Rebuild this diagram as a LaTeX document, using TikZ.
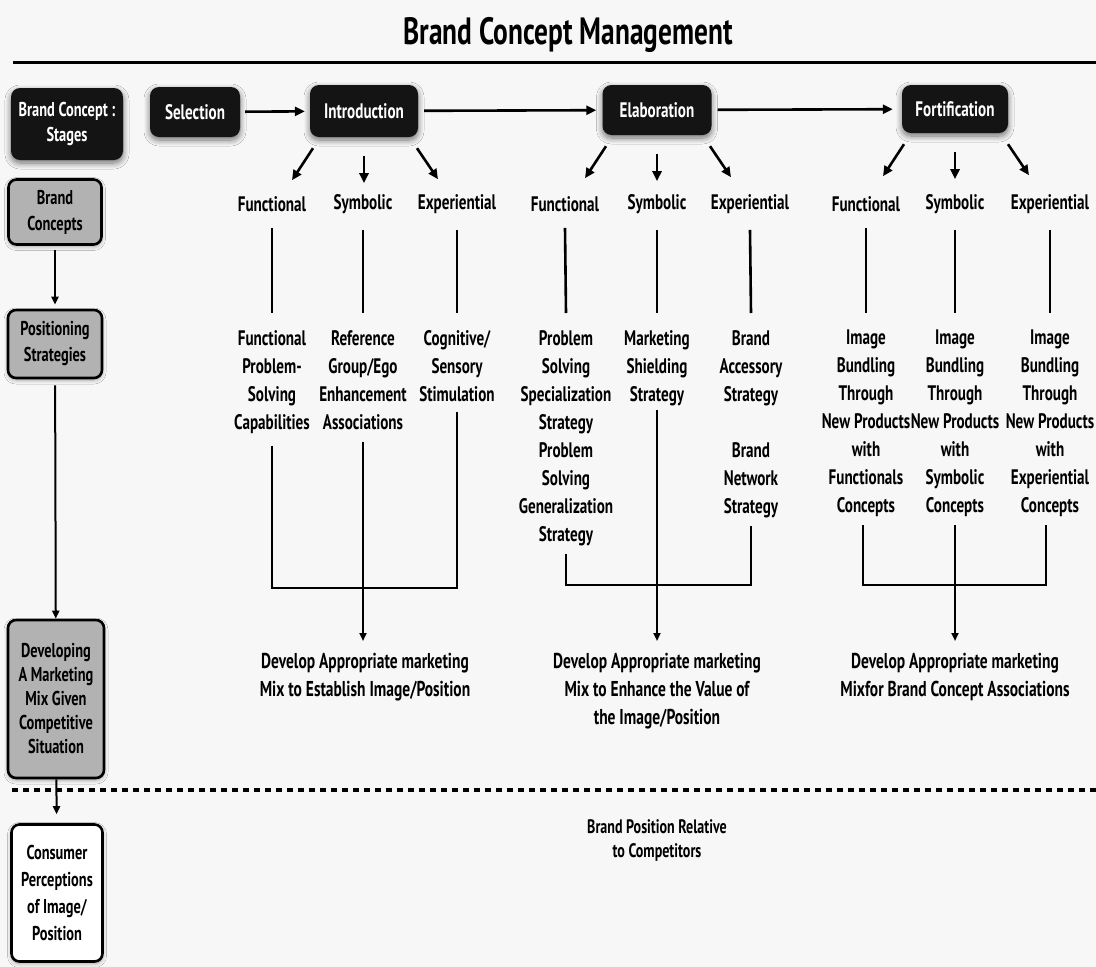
\documentclass[tikz,border=0pt]{standalone}
\usepackage{fontspec}
\newfontfamily\cf[FakeStretch=0.72]{PT Sans}
\usetikzlibrary{arrows.meta,shadows.blur}
\begin{document}
\begin{tikzpicture}[x=1pt,y=-1pt,
  stage/.style={fill=black!92, text=white, rounded corners=9pt, inner sep=0pt,
    align=center, font=\cf\bfseries\fontsize{21}{24}\selectfont,
    blur shadow={shadow blur steps=8, shadow xshift=0pt, shadow yshift=-3pt,
      shadow opacity=55, shadow blur radius=6pt}},
  side/.style={draw=black, line width=2.6pt, fill=black!30, rounded corners=8pt,
    inner sep=0pt, align=center, font=\cf\bfseries\fontsize{20}{26}\selectfont,
    blur shadow={shadow blur steps=6, shadow xshift=0pt, shadow yshift=-2pt,
      shadow opacity=35, shadow blur radius=4pt}},
  lbl/.style={font=\cf\bfseries\fontsize{21}{28}\selectfont, inner sep=0pt},
  strat/.style={font=\cf\bfseries\fontsize{21}{28}\selectfont, align=center,
    inner sep=0pt, anchor=north},
  mix/.style={font=\cf\bfseries\fontsize{21.5}{28}\selectfont, align=center,
    inner sep=0pt, anchor=north},
  ln/.style={line width=2.6pt},
  arr/.style={line width=2.6pt, -{Triangle[length=10pt,width=9pt]}},
  sarr/.style={line width=2pt, -{Triangle[length=8pt,width=7pt]}}]

% page and background
\fill[white!97!black] (0,0) rectangle (1096,967);
\useasboundingbox (0,0) rectangle (1096,967);

% title and rule
\node[font=\cf\bfseries\fontsize{38}{44}\selectfont, inner sep=0pt] (title) at (568,35) {Brand Concept Management};
\coordinate (ruleL) at (13,62);
\coordinate (ruleR) at (1096,62);
\draw[line width=3pt] (ruleL) -- (ruleR);

% left column
\node[stage, minimum width=112pt, minimum height=72pt, font=\cf\bfseries\fontsize{20}{25}\selectfont] (bcs) at (67,124) {Brand Concept :\\Stages};
\node[side, minimum width=93pt, minimum height=65pt] (bc) at (55,212) {Brand\\Concepts};
\node[side, minimum width=94pt, minimum height=68pt] (ps) at (55,344) {Positioning\\Strategies};
\node[side, minimum width=96pt, minimum height=158pt, font=\cf\bfseries\fontsize{20}{24}\selectfont] (dev) at (56,699)
  {Developing\\A Marketing\\Mix Given\\Competitive\\Situation};
\node[side, fill=white, minimum width=91pt, minimum height=137pt, font=\cf\bfseries\fontsize{20}{27}\selectfont] (cons) at (57,893)
  {Consumer\\Perceptions\\of Image/\\Position};

\draw[sarr, shorten <=4pt, shorten >=4pt] (bc) -- (ps);
\draw[sarr, shorten <=6pt] (ps) -- (dev);
\draw[sarr, shorten >=9pt] (dev) -- (cons);

% dotted divider
\coordinate (divL) at (12,790);
\coordinate (divR) at (1096,790);
\draw[line width=4pt, dash pattern=on 6pt off 5pt] (divL) -- (divR);

% stages
\node[stage, minimum width=90pt, minimum height=50pt] (sel) at (195,112) {Selection};
\node[stage, minimum width=108pt, minimum height=52pt] (intro) at (364,111) {Introduction};
\node[stage, minimum width=109pt, minimum height=50pt] (elab) at (657,110) {Elaboration};
\node[stage, minimum width=106pt, minimum height=48pt] (fort) at (955,109) {Fortification};

\draw[arr, shorten <=5pt, shorten >=5pt] (sel) -- (intro);
\draw[arr, shorten <=6pt, shorten >=6pt] (intro) -- (elab);
\draw[arr, shorten <=6pt, shorten >=9pt] (elab) -- (fort);

% concept labels
\foreach \n/\x/\t in {f1/272/Functional, s1/363/Symbolic, e1/457/Experiential,
                      f2/565/Functional, s2/657/Symbolic, e2/750/Experiential,
                      f3/866/Functional, s3/955/Symbolic, e3/1050/Experiential}
  \node[lbl] (\n) at (\x,204) {\t};

% branch arrows from each stage
\foreach \s in {intro, elab, fort} {
  \draw[arr] ([shift={(-51pt,-11pt)}]\s.south) -- ++(-21pt,-32pt);
  \draw[arr] ([shift={(0pt,-19pt)}]\s.south) -- ++(0pt,-27pt);
  \draw[arr] ([shift={(53pt,-11pt)}]\s.south) -- ++(21pt,-31pt);
}

% positioning strategies
\node[strat] (t1) at (272,330) {Functional\\Problem-\\Solving\\Capabilities};
\node[strat] (t2) at (363,330) {Reference\\Group/Ego\\Enhancement\\Associations};
\node[strat] (t3) at (457,330) {Cognitive/\\Sensory\\Stimulation};
\node[strat] (t4) at (566,330) {Problem\\Solving\\Specialization\\Strategy\\Problem\\Solving\\Generalization\\Strategy};
\node[strat] (t5) at (657,330) {Marketing\\Shielding\\Strategy};
\node[strat] (t6) at (751,330) {Brand\\Accessory\\Strategy\\[28pt]Brand\\Network\\Strategy};
\node[strat] (t7) at (866,330) {Image\\Bundling\\Through\\New Products\\with\\Functionals\\Concepts};
\node[strat] (t8) at (955,330) {Image\\Bundling\\Through\\New Products\\with\\Symbolic\\Concepts};
\node[strat] (t9) at (1050,330) {Image\\Bundling\\Through\\New Products\\with\\Experiential\\Concepts};

% label to strategy lines
\foreach \a/\b in {f1/t1, s1/t2, e1/t3, f2/t4, s2/t5, e2/t6, f3/t7, s3/t8, e3/t9}
  \draw[ln] ([yshift=-16pt]\a.south) -- ([yshift=17pt]\b.north);

% marketing mix texts
\node[mix] (d1) at (365,653) {Develop Appropriate marketing\\Mix to Establish Image/Position};
\node[mix] (d2) at (657,653) {Develop Appropriate marketing\\Mix to Enhance the Value of\\the Image/Position};
\node[mix] (d3) at (955,653) {Develop Appropriate marketing\\Mixfor Brand Concept Associations};

% brackets and arrows
\coordinate (b1) at (363,588);
\coordinate (b2) at (657,585);
\coordinate (b3) at (955,585);
\draw[ln] ([yshift=-12pt]t1.south) |- (b1) -| ([yshift=-10pt]t3.south);
\draw[ln] ([yshift=-8pt]t4.south) |- (b2) -| ([yshift=-8pt]t6.south);
\draw[ln] ([yshift=-8pt]t7.south -| 863,0) |- (b3) -| ([yshift=-8pt]t9.south -| 1046,0);
\draw[sarr, shorten >=12pt] ([yshift=-12pt]t2.south) -- (d1.north -| b1);
\draw[sarr, shorten >=12pt] ([yshift=-4pt]t5.south) -- (d2.north -| b2);
\draw[sarr, shorten >=12pt] ([yshift=-8pt]t8.south -| b3) -- (d3.north -| b3);

% consumer perception text
\node[font=\cf\bfseries\fontsize{19.5}{24}\selectfont, align=center, inner sep=0pt] (bpr) at (657,841)
  {Brand Position Relative\\to Competitors};
\end{tikzpicture}
\end{document}
